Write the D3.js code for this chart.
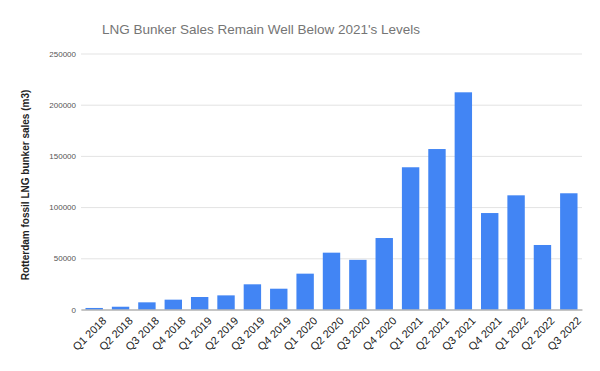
<!DOCTYPE html>
<html>
<head>
<meta charset="utf-8">
<script src="https://cdn.jsdelivr.net/npm/d3@7"></script>
<style>
  body { margin: 0; background: #fff; }
  svg { display: block; font-family: Arial, "Liberation Sans", sans-serif; }
</style>
</head>
<body>
<div id="chart"></div>
<script>
// quarters and LNG bunker sales (m3)
const quarters = ['Q1 2018', 'Q2 2018', 'Q3 2018', 'Q4 2018',
  'Q1 2019', 'Q2 2019', 'Q3 2019', 'Q4 2019',
  'Q1 2020', 'Q2 2020', 'Q3 2020', 'Q4 2020',
  'Q1 2021', 'Q2 2021', 'Q3 2021', 'Q4 2021',
  'Q1 2022', 'Q2 2022', 'Q3 2022'];
const sales = [1500, 2700, 7000, 9600,
  12200, 13800, 24600, 20300,
  35000, 55500, 48500, 69800,
  138900, 156700, 212100, 94200,
  111500, 63000, 113500];
const yTicks = [0, 50000, 100000, 150000, 200000, 250000];

const width = 600, height = 371;
const margin = { top: 53.5, right: 18, bottom: 61.5, left: 81 };

const svg = d3.select('#chart').append('svg')
  .attr('width', width)
  .attr('height', height);

const x = d3.scaleBand()
  .domain(quarters)
  .range([margin.left, width - margin.right])
  .paddingInner(0.34)
  .paddingOuter(0.17);

const y = d3.scaleLinear()
  .domain([0, 250000])
  .range([height - margin.bottom, margin.top]);

// gridlines + y labels
const yAxis = svg.append('g')
  .attr('transform', `translate(${margin.left},0)`)
  .call(d3.axisLeft(y).tickValues(yTicks).tickSize(-(width - margin.left - margin.right)).tickPadding(5).tickFormat(d3.format('d')));
yAxis.select('.domain').remove();
yAxis.selectAll('line').attr('stroke', '#e3e3e3');
yAxis.selectAll('text').attr('fill', '#555').attr('font-size', 8);

// bars
svg.append('g').selectAll('rect')
  .data(sales)
  .join('rect')
  .attr('x', (d, i) => x(quarters[i]))
  .attr('y', d => y(d))
  .attr('width', x.bandwidth())
  .attr('height', d => y(0) - y(d))
  .attr('fill', '#4285f4');

// baseline + x labels
const xAxis = svg.append('g')
  .attr('transform', `translate(0,${y(0)})`)
  .call(d3.axisBottom(x).tickSize(0).tickPadding(6));
xAxis.select('.domain').attr('stroke', '#999').attr('stroke-width', 1.2);
xAxis.selectAll('text')
  .attr('fill', '#222')
  .attr('font-size', 11)
  .attr('text-anchor', 'end')
  .attr('dy', '0.35em')
  .attr('transform', 'translate(6,5) rotate(-45)');

// title
svg.append('text')
  .attr('x', 261)
  .attr('y', 34)
  .attr('text-anchor', 'middle')
  .attr('fill', '#757575')
  .attr('font-size', 13.5)
  .text("LNG Bunker Sales Remain Well Below 2021's Levels");

// y axis title
svg.append('text')
  .attr('transform', 'translate(29,185) rotate(-90)')
  .attr('text-anchor', 'middle')
  .attr('fill', '#222')
  .attr('font-size', 10)
  .attr('font-weight', 'bold')
  .text('Rotterdam fossil LNG bunker sales (m3)');
</script>
</body>
</html>
